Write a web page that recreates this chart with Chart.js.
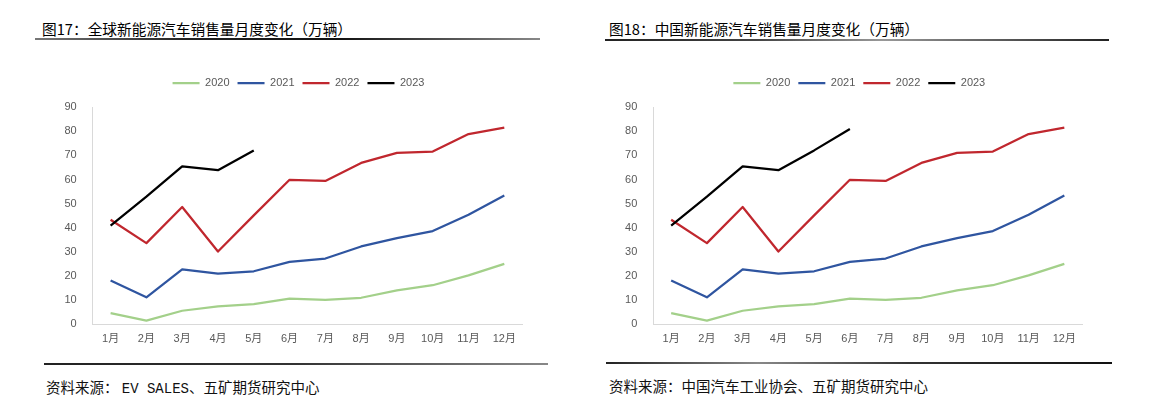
<!DOCTYPE html>
<html>
<head>
<meta charset="utf-8">
<script src="https://cdn.jsdelivr.net/npm/chart.js@4"></script>
<style>
  html, body { margin: 0; padding: 0; background: #ffffff; }
  body { width: 1159px; height: 401px; position: relative; overflow: hidden;
         font-family: "Noto Sans CJK SC", "Liberation Sans", sans-serif; color: #000; }
  .title { position: absolute; font-size: 14.7px; line-height: 18px; white-space: nowrap; color: #000; }
  .rule { position: absolute; height: 2px; }
  .foot { position: absolute; font-size: 14.5px; line-height: 18px; white-space: nowrap; color: #111; }
  .mono { font-family: "Liberation Mono", "DejaVu Sans Mono", monospace; font-size: 14px; }
  .wrap { position: absolute; }
</style>
</head>
<body>
<div class="title" style="left:42px; top:20px;">图17：全球新能源汽车销售量月度变化（万辆）</div>
<div class="rule" style="left:35px; top:38px; width:505px; background:linear-gradient(to right,#777,#222 30%,#111 60%,#888);"></div>
<div class="title" style="left:609px; top:20px;">图18：中国新能源汽车销售量月度变化（万辆）</div>
<div class="rule" style="left:605px; top:39px; width:504px; background:linear-gradient(to right,#222,#444 30%,#999 55%,#222);"></div>

<div class="wrap" style="left:20px; top:50px; width:520px; height:304px;"><canvas id="c1" width="520" height="304"></canvas></div>
<div class="wrap" style="left:580px; top:50px; width:520px; height:304px;"><canvas id="c2" width="520" height="304"></canvas></div>

<div class="rule" style="left:44px; top:363px; width:504px; background:linear-gradient(to right,#222,#333 50%,#888);"></div>
<div class="foot" style="left:46px; top:378px;">资料来源： <span class="mono">EV SALES</span>、五矿期货研究中心</div>
<div class="rule" style="left:606px; top:362px; width:506px; background:linear-gradient(to right,#222,#888 30%,#333 60%,#111);"></div>
<div class="foot" style="left:609px; top:377px;">资料来源：中国汽车工业协会、五矿期货研究中心</div>

<script>
const months = ['1月','2月','3月','4月','5月','6月','7月','8月','9月','10月','11月','12月'];
const seriesNames = ['2020','2021','2022','2023'];
const sales2020 = [4.5, 1.4, 5.5, 7.3, 8.3, 10.5, 10.0, 10.9, 14.0, 16.1, 20.2, 25.0];
const sales2021 = [18.1, 11.1, 22.7, 20.9, 21.9, 25.8, 27.2, 32.2, 35.7, 38.6, 45.4, 53.4];
const sales2022 = [43.3, 33.6, 48.6, 30.1, 45.1, 59.9, 59.4, 66.9, 71.1, 71.6, 78.9, 81.6];
const global2023 = [40.9, 52.9, 65.5, 63.9, 72.1];
const china2023 = [40.9, 52.9, 65.5, 63.9, 72.1, 81.0];
const yMin = 0, yMax = 90, yStep = 10;

const colors = ['#a3d08a', '#2f55a0', '#c0272e', '#000000'];
const tickFont = { family: '"Liberation Sans", "Noto Sans CJK SC", sans-serif', size: 11 };

function makeChart(id, s2023, padLeft, legendLeft) {
  const dataArr = [sales2020, sales2021, sales2022, s2023];
  const legendTweak = {
    id: 'legendTweak',
    beforeInit(chart) {
      const origFit = chart.legend.fit;
      chart.legend.fit = function () {
        origFit.bind(chart.legend)();
        this.height += 8.8;
      };
    },
    afterLayout(chart) {
      const lg = chart.legend;
      lg.left = legendLeft;
      lg.width = lg.right - lg.left;
    }
  };
  return new Chart(document.getElementById(id), {
    type: 'line',
    data: {
      labels: months,
      datasets: seriesNames.map((n, i) => ({
        label: n,
        data: dataArr[i],
        order: seriesNames.length - i,
        borderColor: colors[i],
        backgroundColor: colors[i],
        borderWidth: 2.25,
        pointRadius: 0,
        pointHoverRadius: 0,
        tension: 0,
        fill: false,
        borderJoinStyle: 'round',
        borderCapStyle: 'butt'
      }))
    },
    options: {
      responsive: false,
      animation: false,
      devicePixelRatio: 1,
      layout: { padding: { left: padLeft, right: 17.8, top: 19.5, bottom: 0 } },
      plugins: {
        legend: {
          position: 'top',
          align: 'center',
          labels: {
            usePointStyle: true,
            pointStyle: 'line',
            pointStyleWidth: 27,
            padding: 8,
            color: '#595959',
            font: { family: '"Liberation Sans", sans-serif', size: 11 },
            sort: (a, b) => a.datasetIndex - b.datasetIndex
          }
        },
        tooltip: { enabled: false }
      },
      scales: {
        x: {
          type: 'category',
          offset: true,
          grid: { display: false, drawTicks: false },
          border: { display: true, color: '#d9d9d9', width: 1 },
          ticks: { color: '#595959', font: tickFont, padding: 8, maxRotation: 0, autoSkip: false },
          afterFit(scale) { scale.height = 30; }
        },
        y: {
          min: yMin, max: yMax,
          grid: { display: false, drawTicks: false },
          border: { display: true, color: '#d9d9d9', width: 1 },
          ticks: { stepSize: yStep, color: '#595959', font: tickFont, padding: 16 },
          afterFit(scale) { scale.width = 45; }
        }
      }
    },
    plugins: [legendTweak]
  });
}

// chart area left = 20 + padLeft + 45 = 92.7 ; 580 + padLeft + 45 = 653.3
makeChart('c1', global2023, 27.7, 54.8);
makeChart('c2', china2023, 28.3, 56.4);
</script>
</body>
</html>
